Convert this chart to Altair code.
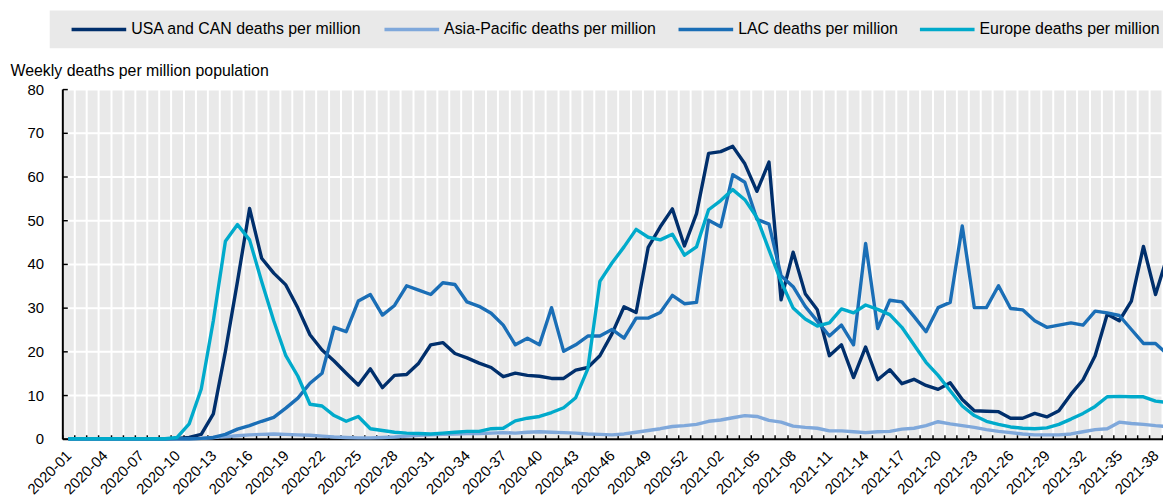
import json
import altair as alt
import pandas as pd

# ISO weeks shown on the category axis
weeks = [f"2020-{w:02d}" for w in range(1, 54)] + [f"2021-{w:02d}" for w in range(1, 40)]

series_names = [
    "USA and CAN deaths per million",
    "Asia-Pacific deaths per million",
    "LAC deaths per million",
    "Europe deaths per million",
]
series_colors = ["#002F6C", "#7FA8DB", "#1A6EB6", "#00AACB"]

usa = [0, 0, 0, 0, 0, 0, 0, 0, 0, 0.1,
       0.3, 1.0, 5.7, 20.0, 36.0, 52.7, 41.3, 37.9, 35.2, 29.9,
       23.8, 20.3, 17.8, 15.0, 12.3, 16.0, 11.7, 14.5, 14.7, 17.3,
       21.5, 22.0, 19.5, 18.5, 17.3, 16.3, 14.2, 15.0, 14.5, 14.3,
       13.8, 13.8, 15.7, 16.3, 19.0, 24.0, 30.2, 28.9, 43.8, 48.5,
       52.6, 44.1, 51.5, 65.3, 65.7, 66.9, 62.9, 56.6, 63.3, 31.8,
       42.7, 33.2, 29.5, 19.0, 21.5, 14.0, 21.0, 13.5, 15.8, 12.6,
       13.6, 12.2, 11.3, 12.8, 9.0, 6.4, 6.3, 6.2, 4.7, 4.7,
       5.8, 5.0, 6.4, 10.2, 13.5, 19.0, 28.5, 27.0, 31.5, 44.0,
       33.0, 42.0]

asia = [0, 0, 0, 0, 0, 0, 0, 0, 0, 0,
        0, 0.1, 0.3, 0.5, 0.7, 0.9, 1.0, 1.1, 1.0, 0.9,
        0.8, 0.6, 0.4, 0.3, 0.2, 0.2, 0.3, 0.4, 0.6, 0.8,
        0.9, 1.0, 1.1, 1.2, 1.2, 1.3, 1.4, 1.3, 1.5, 1.6,
        1.5, 1.4, 1.3, 1.1, 1.0, 0.9, 1.1, 1.5, 1.9, 2.3,
        2.8, 3.0, 3.3, 4.0, 4.3, 4.8, 5.3, 5.1, 4.2, 3.8,
        2.9, 2.6, 2.4, 1.8, 1.8, 1.6, 1.4, 1.6, 1.7, 2.2,
        2.4, 3.0, 3.9, 3.4, 3.0, 2.6, 2.1, 1.7, 1.4, 1.1,
        0.9, 0.9, 0.9, 1.1, 1.6, 2.1, 2.3, 3.8, 3.5, 3.3,
        3.0, 2.8]

lac = [0, 0, 0, 0, 0, 0, 0, 0, 0, 0,
       0, 0.1, 0.3, 1.0, 2.2, 3.0, 4.0, 4.9, 7.0, 9.3,
       12.7, 15.0, 25.5, 24.5, 31.5, 33.0, 28.3, 30.5, 35.0, 34.0,
       33.0, 35.7, 35.3, 31.3, 30.3, 28.7, 26.0, 21.5, 23.0, 21.5,
       30.0, 20.0, 21.5, 23.5, 23.5, 25.0, 23.0, 27.6, 27.6, 28.9,
       32.8, 30.9, 31.2, 50.0, 48.5, 60.4, 58.7, 50.2, 49.1, 37.3,
       34.8, 30.3, 26.9, 23.5, 26.0, 21.5, 44.7, 25.2, 31.7, 31.3,
       28.0, 24.5, 30.0, 31.2, 48.7, 30.0, 30.0, 35.0, 29.8, 29.5,
       27.0, 25.5, 26.0, 26.5, 26.0, 29.2, 28.8, 28.2, 25.0, 21.8,
       21.8, 19.3]

europe = [0, 0, 0, 0, 0, 0, 0, 0, 0, 0.3,
          3.4, 11.4, 27.0, 45.2, 49.0, 45.5, 36.0, 27.0, 19.0, 14.3,
          7.9, 7.5, 5.3, 4.0, 5.1, 2.3, 1.9, 1.5, 1.3, 1.2,
          1.1, 1.3, 1.5, 1.7, 1.7, 2.3, 2.4, 4.1, 4.7, 5.1,
          6.0, 7.1, 9.4, 16.0, 36.0, 40.2, 43.9, 47.9, 46.1, 45.5,
          46.8, 42.0, 43.9, 52.4, 54.5, 57.0, 54.7, 50.6, 43.2, 36.0,
          29.9, 27.4, 25.8, 26.5, 29.7, 28.8, 30.6, 29.6, 28.4, 25.5,
          21.5, 17.5, 14.5, 11.0, 7.5, 5.3, 4.0, 3.3, 2.7, 2.4,
          2.3, 2.5, 3.3, 4.5, 5.8, 7.4, 9.6, 9.7, 9.6, 9.6,
          8.6, 8.3]

y_ticks = [0, 10, 20, 30, 40, 50, 60, 70, 80]
x_labels = weeks[::3]

df = pd.DataFrame({
    "week": weeks,
    series_names[0]: usa,
    series_names[1]: asia,
    series_names[2]: lac,
    series_names[3]: europe,
}).melt("week", var_name="series", value_name="deaths")

band = 12.16
label_expr = "indexof(" + json.dumps(x_labels) + ", datum.value) >= 0 ? datum.value : ''"

chart = alt.Chart(df).mark_line(strokeWidth=3.4, strokeJoin="round").encode(
    x=alt.X("week:O", sort=weeks, title=None,
            scale=alt.Scale(type="band", paddingInner=0, paddingOuter=0,
                            range=[0, band * len(weeks)]),
            axis=alt.Axis(tickBand="extent", grid=True, gridColor="white", gridWidth=2,
                          labelExpr=label_expr, labelAngle=-45, labelAlign="right",
                          labelBaseline="middle", labelOverlap=False, labelFontSize=15,
                          labelColor="black", labelPadding=18,
                          tickSize={"expr": "-4"}, tickColor="black", tickWidth=1.5,
                          domainColor="black", domainWidth=2)),
    y=alt.Y("deaths:Q",
            scale=alt.Scale(domain=[0, 80], nice=False),
            axis=alt.Axis(values=y_ticks, title="Weekly deaths per million population",
                          titleAngle=0, titleAlign="left", titleBaseline="alphabetic",
                          titleX=-52.7, titleY=-14, titleFontSize=16,
                          titleFontWeight="normal", titleColor="black",
                          labelFontSize=15, labelColor="black", labelPadding=24,
                          grid=True, gridColor="white", gridWidth=2,
                          tickSize={"expr": "-5"}, tickColor="black", tickWidth=1.5,
                          domainColor="black", domainWidth=2)),
    color=alt.Color("series:N", sort=series_names,
                    scale=alt.Scale(domain=series_names, range=series_colors),
                    legend=alt.Legend(orient="none", legendX=-12.7, legendY=-79,
                                      direction="horizontal", title="\u00a0",
                                      titleOrient="left", titleFontSize=16, titlePadding=10,
                                      fillColor="#E9E9E9", padding=10,
                                      symbolType="stroke", symbolSize=3025,
                                      symbolStrokeWidth=3.5, clipHeight=18,
                                      labelFontSize=16, labelColor="black",
                                      labelLimit=400, labelOffset=3, columnPadding=20)),
).properties(
    width=1108,
    height=352,
    autosize=alt.AutoSizeParams(type="none"),
    padding={"left": 54.7, "top": 80, "right": 0, "bottom": 58},
).configure(
    font="Liberation Sans"
).configure_view(
    fill="#E9E9E9", strokeWidth=0
)

chart.save("out.html", embed_options={"renderer": "svg", "actions": False})
